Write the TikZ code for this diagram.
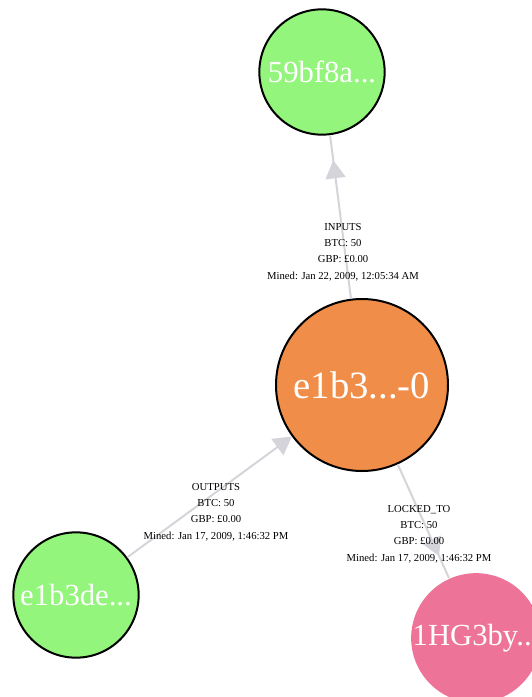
\documentclass[tikz,border=0pt]{standalone}
\usepackage{fontspec}
\setmainfont{Liberation Serif}
\usetikzlibrary{positioning, arrows.meta, decorations.markings}
\definecolor{nodegreen}{RGB}{147,245,123}
\definecolor{nodeorange}{RGB}{240,142,73}
\definecolor{nodepink}{RGB}{237,115,152}
\definecolor{edgegray}{RGB}{212,212,218}
\tikzset{
  tip/.style={-{Triangle[length=13.5pt,width=15pt]}},
  rel/.style={draw=edgegray, line width=1.5pt},
  relmark/.style={rel, postaction={decorate, decoration={markings,
      mark=at position #1 with {\arrow{Triangle[length=13.5pt,width=15pt,edgegray]}}}}},
  ent/.style={circle, draw=black, line width=1.5pt, text=white, inner sep=0pt,
      minimum size=94pt, font=\fontsize{23}{27}\selectfont},
  lab/.style={font=\fontsize{8}{12.3}\selectfont, align=center, inner sep=0pt}
}
\begin{document}
\begin{tikzpicture}[x=0.75pt, y=-0.75pt]
\useasboundingbox (0,0) rectangle (532,697);
\clip (0,0) rectangle (532,697);
% nodes
\node[ent, fill=nodegreen] (src) at (322,72) {59bf8a...};
\node[ent, fill=nodeorange, minimum size=129pt, font=\fontsize{29}{33}\selectfont] (out) at (362,385) {e1b3...-0};
\node[ent, fill=nodegreen] (tx) at (76,595) {e1b3de...};
\node[ent, fill=nodepink, draw=none] (addr) at (476,638) {1HG3by...};
% relations
\draw[relmark=-19pt] (out) -- (src);
\draw[rel, tip, edgegray] (tx) -- (out);
\draw[relmark=-18pt] (out) -- (addr);
% relation labels
\node[lab] (inlab) at (343,252) {INPUTS\\BTC: 50\\GBP: £0.00\\Mined: Jan 22, 2009, 12:05:34 AM};
\node[lab] (outlab) at (216,512) {OUTPUTS\\BTC: 50\\GBP: £0.00\\Mined: Jan 17, 2009, 1:46:32 PM};
\node[lab] (locklab) at (419,534) {LOCKED\_TO\\BTC: 50\\GBP: £0.00\\Mined: Jan 17, 2009, 1:46:32 PM};
\end{tikzpicture}
\end{document}
